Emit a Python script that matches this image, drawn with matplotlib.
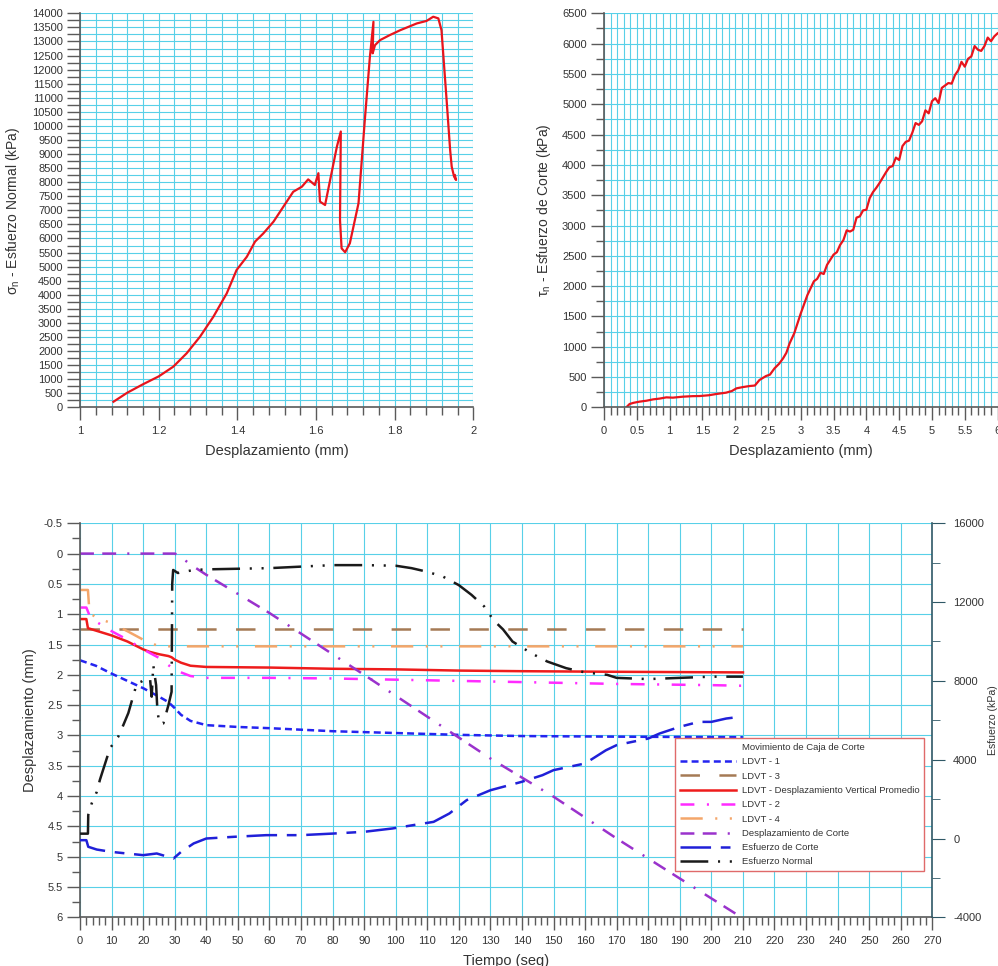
import numpy as np
import matplotlib
matplotlib.use('Agg')
import matplotlib.pyplot as plt
from matplotlib.ticker import MultipleLocator, FormatStrFormatter
from matplotlib.lines import Line2D

plt.rcParams['font.family'] = ['Liberation Sans', 'DejaVu Sans']
plt.rcParams['axes.unicode_minus'] = False
plt.rcParams['lines.scale_dashes'] = False

#-------------------------------------------------
# Esfuerzo normal vs desplazamiento (arriba izquierda)
desp_n = [1.085, 1.12, 1.16, 1.20, 1.237, 1.271, 1.305, 1.339, 1.373, 1.398, 1.424,
          1.445, 1.466, 1.492, 1.517, 1.542, 1.564, 1.58, 1.597, 1.606, 1.61, 1.623,
          1.653, 1.663, 1.661, 1.665, 1.674, 1.686, 1.708, 1.724, 1.737, 1.746, 1.744,
          1.75, 1.763, 1.788, 1.814, 1.856, 1.881, 1.898, 1.911, 1.919, 1.932, 1.941,
          1.945, 1.951, 1.956, 1.953]
sigma_n = [200, 520, 820, 1100, 1445, 1920, 2510, 3220, 4050, 4880, 5350,
           5890, 6180, 6600, 7130, 7660, 7840, 8100, 7900, 8320, 7310, 7190,
           9260, 9800, 6650, 5650, 5510, 5830, 7250, 10200, 12460, 13700, 12580,
           12870, 13050, 13230, 13400, 13640, 13730, 13880, 13820, 13400, 10920, 9140,
           8550, 8200, 8080, 8250]

# Esfuerzo de corte vs desplazamiento (arriba derecha)
desp_t = [0.34, 0.39, 0.45, 0.54, 0.65, 0.75, 0.85, 0.95, 1.05, 1.2, 1.35, 1.46, 1.6,
          1.71, 1.86, 1.95, 2.02, 2.12, 2.22, 2.3, 2.37, 2.47, 2.53, 2.6, 2.67, 2.73,
          2.78, 2.83, 2.9, 3.0, 3.1, 3.2, 3.25, 3.3, 3.35, 3.4, 3.5, 3.55, 3.6, 3.65,
          3.7, 3.75, 3.8, 3.85, 3.9, 3.95, 4.0, 4.05, 4.1, 4.15, 4.2, 4.3, 4.35, 4.4,
          4.45, 4.5, 4.55, 4.6, 4.65, 4.7, 4.75, 4.8, 4.85, 4.9, 4.95, 5.0, 5.05, 5.1,
          5.15, 5.2, 5.25, 5.3, 5.35, 5.4, 5.45, 5.5, 5.55, 5.6, 5.65, 5.7, 5.75, 5.8,
          5.85, 5.9, 5.95, 6.0, 6.05]
tau_n = [0, 55, 75, 94, 110, 132, 145, 165, 160, 176, 185, 187, 200,
         220, 242, 270, 314, 335, 352, 360, 451, 517, 540, 644, 720, 808,
         900, 1056, 1221, 1551, 1850, 2080, 2120, 2220, 2200, 2350, 2520, 2560, 2680, 2760,
         2920, 2900, 2930, 3130, 3150, 3250, 3260, 3450, 3550, 3620, 3700, 3880, 3960, 3980,
         4120, 4080, 4310, 4380, 4400, 4530, 4690, 4660, 4720, 4900, 4850, 5050, 5100, 5020,
         5270, 5310, 5350, 5340, 5480, 5560, 5700, 5620, 5750, 5790, 5960, 5900, 5880, 5960,
         6100, 6040, 6120, 6170, 6200]

# Series contra el tiempo (abajo)
t_l1 = [0, 5, 10, 15, 20, 25, 28, 30, 32, 35, 40, 50, 60, 80, 100, 120, 140, 170, 210]
ldvt1 = [1.76, 1.85, 1.98, 2.1, 2.22, 2.36, 2.45, 2.55, 2.66, 2.76, 2.83, 2.86, 2.88,
         2.93, 2.96, 2.99, 3.01, 3.02, 3.03]

t_l3 = [0, 210]
ldvt3 = [1.25, 1.25]

t_prom = [0, 2, 2.5, 5, 10, 15, 20, 22, 25, 28, 29, 30, 32, 35, 40, 60, 80, 100, 120, 140, 170, 210]
ldvt_prom = [1.08, 1.08, 1.23, 1.27, 1.35, 1.45, 1.58, 1.62, 1.66, 1.69, 1.71, 1.75, 1.8,
             1.85, 1.87, 1.88, 1.9, 1.91, 1.93, 1.94, 1.95, 1.96]

t_l2 = [0, 2, 3, 5, 10, 15, 20, 25, 30, 35, 40, 60, 80, 100, 120, 140, 170, 200, 210]
ldvt2 = [0.89, 0.89, 1.02, 1.12, 1.28, 1.42, 1.58, 1.72, 1.92, 2.02, 2.05, 2.05, 2.06,
         2.08, 2.1, 2.12, 2.15, 2.17, 2.18]

t_l4 = [0, 2.5, 3, 5, 10, 15, 20, 25, 210]
ldvt4 = [0.6, 0.6, 0.98, 1.05, 1.15, 1.28, 1.42, 1.53, 1.53]

t_dc = [0, 30, 31, 33, 35, 40, 60, 90, 130, 150, 170, 190, 208]
desp_corte = [0, 0, 0.02, 0.1, 0.18, 0.35, 0.98, 2.0, 3.38, 4.01, 4.7, 5.36, 5.95]

t_ec = [0, 2, 2.6, 5.3, 10, 14.8, 20, 24.3, 29.6, 32, 36, 40, 48.6, 59, 70, 80, 90, 99,
        105.6, 112, 117, 122.5, 130, 140, 146.5, 150, 160, 166.6, 170, 180, 183.6, 190,
        196, 200, 204.7, 209]
esf_corte = [-85, -85, -420, -560, -680, -760, -845, -760, -1015, -680, -250, 0, 85, 170,
             170, 250, 340, 510, 680, 845, 1270, 1950, 2450, 2880, 3215, 3470, 3810, 4480,
             4740, 5075, 5330, 5670, 5920, 5920, 6090, 6175]

t_en = [0, 2.5, 2.6, 3.7, 5.3, 6.3, 9.5, 12.1, 13.7, 15.3, 18, 19.5, 21.1, 22.2, 22.7,
        23.2, 24.1, 24.5, 25.1, 26.4, 28, 29, 29.1, 29.2, 29.5, 31, 33, 36, 40, 50, 60,
        70, 80, 90, 100, 105, 110, 115, 120, 124, 128, 131, 134, 137, 140, 143, 148, 154,
        160, 167, 170, 175, 180, 185, 190, 200, 210]
esf_normal = [246, 246, 1199, 1784, 2368, 2984, 4584, 5169, 5753, 6369, 7877, 7969, 8153,
              8061, 7199, 8799, 7784, 6522, 5846, 5846, 6769, 7446, 10092, 12923, 13630,
              13476, 13538, 13630, 13661, 13692, 13723, 13800, 13876, 13876, 13846, 13723,
              13538, 13292, 12860, 12369, 11784, 11077, 10615, 9999, 9700, 9400, 8985, 8646,
              8430, 8308, 8153, 8123, 8092, 8123, 8153, 8215, 8215]

#-------------------------------------------------
gridc = '#58d0e8'
spc = '#5a5a5a'
txt = '#333333'

fig = plt.figure(figsize=(9.98, 9.66), dpi=100)


def estilo(ax, xmaj, xmin, ymaj, ymin, grid_minor=True):
    ax.xaxis.set_major_locator(MultipleLocator(xmaj))
    ax.xaxis.set_minor_locator(MultipleLocator(xmin))
    ax.yaxis.set_major_locator(MultipleLocator(ymaj))
    ax.yaxis.set_minor_locator(MultipleLocator(ymin))
    ax.xaxis.set_major_formatter(FormatStrFormatter('%g'))
    ax.yaxis.set_major_formatter(FormatStrFormatter('%g'))
    ax.grid(which='major', color=gridc, lw=0.8)
    if grid_minor:
        ax.grid(which='minor', color=gridc, lw=0.8)
    ax.set_axisbelow(True)
    for s in ['top', 'right']:
        ax.spines[s].set_visible(False)
    for s in ['left', 'bottom']:
        ax.spines[s].set_color(spc)
        ax.spines[s].set_linewidth(1.2)
    ax.tick_params(which='both', direction='out', color=spc, width=1.0,
                   labelsize=8, labelcolor=txt)
    ax.tick_params(axis='x', which='major', length=9.5, pad=4)
    ax.tick_params(axis='x', which='minor', length=5.5)
    ax.tick_params(axis='y', which='major', length=9.5, pad=3)


# arriba izquierda
ax1 = fig.add_axes([0.0802, 0.5783, 0.3941, 0.4079])
ax1.plot(desp_n, sigma_n, color='#e8141c', lw=1.6)
ax1.set_xlim(1, 2)
ax1.set_ylim(0, 14000)
estilo(ax1, 0.2, 0.04, 500, 250)
ax1.tick_params(axis='y', which='minor', length=9.5)
ax1.set_xlabel('Desplazamiento (mm)', fontsize=10.5, color=txt)
ax1.set_ylabel('σ$_\\mathregular{n}$ - Esfuerzo Normal (kPa)', fontsize=10, color=txt)
ax1.xaxis.set_label_coords(0.5, -0.092)
ax1.yaxis.set_label_coords(-0.147, 0.5)

# arriba derecha (sale del borde de la figura)
ax2 = fig.add_axes([0.6052, 0.5783, 0.4601, 0.4079])
ax2.plot(desp_t, tau_n, color='#e8141c', lw=1.6)
ax2.set_xlim(0, 7)
ax2.set_ylim(0, 6500)
estilo(ax2, 0.5, 0.1, 500, 250)
ax2.tick_params(axis='y', which='minor', length=6)
ax2.set_xlabel('Desplazamiento (mm)', fontsize=10.5, color=txt)
ax2.set_ylabel('τ$_\\mathregular{n}$ - Esfuerzo de Corte (kPa)', fontsize=10, color=txt)
ax2.xaxis.set_label_coords(0.4277, -0.092)
ax2.yaxis.set_label_coords(-0.112, 0.5)

# abajo
ax3 = fig.add_axes([0.0802, 0.0504, 0.8540, 0.4079])
ax3.set_xlim(0, 270)
ax3.set_ylim(6, -0.5)
estilo(ax3, 10, 2, 0.5, 0.25, grid_minor=False)
ax3.tick_params(axis='y', which='minor', length=5.5)
ax3.set_xlabel('Tiempo (seg)', fontsize=10.5, color=txt)
ax3.set_ylabel('Desplazamiento (mm)', fontsize=10.5, color=txt)
ax3.xaxis.set_label_coords(0.5, -0.092)
ax3.yaxis.set_label_coords(-0.0505, 0.5)

ax3r = ax3.twinx()
ax3r.set_ylim(-4000, 16000)
ax3r.yaxis.set_major_locator(MultipleLocator(4000))
ax3r.yaxis.set_minor_locator(MultipleLocator(2000))
for s in ['top', 'left', 'bottom']:
    ax3r.spines[s].set_visible(False)
ax3r.spines['right'].set_color('#2f5866')
ax3r.spines['right'].set_linewidth(1.2)
ax3r.tick_params(which='both', direction='out', color='#2f5866', labelsize=8, labelcolor=txt)
ax3r.tick_params(which='major', length=9, pad=6)
ax3r.tick_params(which='minor', length=6)
ax3r.set_ylabel('Esfuerzo (kPa)', fontsize=7.6, color=txt)
ax3r.yaxis.set_label_coords(1.0657, 0.5)

lw = 1.8
l1, = ax3.plot(t_l1, ldvt1, color='#2424f0', lw=lw, dashes=(5, 3))
l3, = ax3.plot(t_l3, ldvt3, color='#a57a55', lw=lw, dashes=(14, 14))
lp, = ax3.plot(t_prom, ldvt_prom, color='#ee1c1c', lw=lw)
l2, = ax3.plot(t_l2, ldvt2, color='#ff2bff', lw=lw, dashes=(10, 9, 1.5, 9))
l4, = ax3.plot(t_l4, ldvt4, color='#f4a66a', lw=lw, dashes=(16, 9, 1.5, 9, 1.5, 12))
ldc, = ax3.plot(t_dc, desp_corte, color='#9a32cc', lw=lw, dashes=(10, 6, 10, 8, 1.5, 8))
lec, = ax3r.plot(t_ec, esf_corte, color='#2020d8', lw=lw, dashes=(22, 7, 7, 7))
len_, = ax3r.plot(t_en, esf_normal, color='#1a1a1a', lw=lw, dashes=(20, 7, 1.5, 7, 1.5, 7))

blank = Line2D([], [], color='none')
handles = [blank, l1, l3, lp, l2, l4, ldc, lec, len_]
labels = ['Movimiento de Caja de Corte', 'LDVT - 1', 'LDVT - 3',
          'LDVT - Desplazamiento Vertical Promedio', 'LDVT - 2', 'LDVT - 4',
          'Desplazamiento de Corte', 'Esfuerzo de Corte', 'Esfuerzo Normal']
leg = ax3r.legend(handles, labels, loc='upper left', bbox_to_anchor=(0.698, 0.454),
                  fontsize=6.8, handlelength=6.0, handletextpad=0.55, labelspacing=0.56,
                  borderpad=0.5, borderaxespad=0, fancybox=False, framealpha=1,
                  edgecolor='#e06a6a')
leg.get_frame().set_linewidth(1.0)
for t in leg.get_texts():
    t.set_color(txt)

fig.savefig('out.png', dpi=100)
